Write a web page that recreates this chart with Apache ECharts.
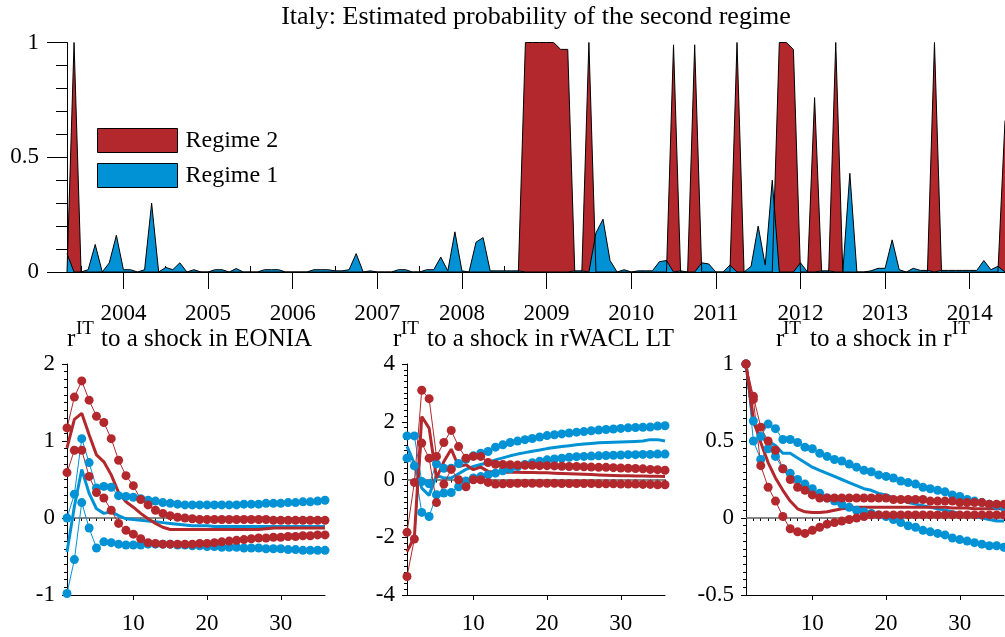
<!DOCTYPE html>
<html><head><meta charset="utf-8">
<script src="https://cdn.jsdelivr.net/npm/echarts@6/dist/echarts.min.js"></script>
<style>html,body{margin:0;padding:0;background:#fff}#c{width:1005px;height:637px}</style>
</head><body><div id="c"></div>
<script>
// ---------- Top panel data (monthly, first observation May 2003) ----------
const startYear = 2003, startMonth = 5;
const regime2 = [
  0,1,0,0,0,0,0,0,0,0,
  0,0,0,0,0,0,0,0,0,0,
  0,0,0,0,0,0,0,0,0,0,
  0,0,0,0,0,0,0,0,0,0,
  0,0,0,0,0,0,0,0,0,0,
  0,0,0,0,0,0,0,0,0,0,
  0,0,0,0,0,1,1,1,1,1,
  0.97,0.97,0,0,1,0,0,0,0,0,
  0,0,0,0,0,0,0.99,0,0,0.99,
  0,0,0,0,0,1,0,0,0,0,
  0,1,1,0.97,0,0,0.76,0,0,1,
  0,0,0,0,0,0,0,0,0,0,
  0,0,0,1,0,0,0,0,0,0,
  0,0,0,0.66
];
const regime1 = [
  0.08,0,0,0.01,0.12,0,0.04,0.16,0.01,0.01,
  0,0.01,0.30,0,0.02,0.01,0.04,0,0.01,0,
  0,0.01,0.01,0,0.015,0,0,0,0.01,0.01,
  0.01,0,0,0,0,0.01,0.01,0.01,0.005,0.005,
  0.01,0.08,0,0.005,0,0,0,0.01,0.01,0,
  0,0.01,0.01,0.065,0.005,0.175,0.005,0,0.13,0.15,
  0.005,0.005,0.005,0.005,0.005,0,0,0,0,0,
  0,0,0.005,0.005,0,0.17,0.23,0.05,0,0.01,
  0,0.005,0.005,0.005,0.045,0.05,0,0.005,0,0,
  0.04,0.035,0,0,0.03,0,0,0.025,0.2,0.03,
  0.40,0,0,0,0.04,0,0,0.005,0.005,0,
  0,0.43,0,0,0.005,0.016,0.016,0.14,0.01,0,
  0.016,0.007,0.007,0,0.007,0.007,0.007,0.007,0.007,0.007,
  0.05,0.01,0.025,0
];
const yearTicks = [2004,2005,2006,2007,2008,2009,2010,2011,2012,2013,2014];
const halfYearTicks = [2003.5,2004.5,2005.5,2006.5,2007.5,2008.5,2009.5,2010.5,2011.5,2012.5,2013.5];

// ---------- Impulse responses (horizons 1..36) ----------
const horizons = [1,2,3,4,5,6,7,8,9,10,11,12,13,14,15,16,17,18,19,20,21,22,23,24,25,26,27,28,29,30,31,32,33,34,35,36];

// Panel 1: shock in EONIA
const p1_r2_up = [1.17,1.57,1.78,1.53,1.32,1.24,1.03,0.75,0.55,0.42,0.24,0.17,0.10,0.06,0.03,0.01,0.0,-0.01,-0.02,-0.02,-0.02,-0.02,-0.02,-0.02,-0.02,-0.02,-0.02,-0.02,-0.03,-0.03,-0.03,-0.03,-0.03,-0.03,-0.03,-0.03];
const p1_r2_lo = [0.59,0.88,0.88,0.54,0.33,0.26,0.10,-0.07,-0.16,-0.21,-0.27,-0.32,-0.33,-0.34,-0.34,-0.34,-0.34,-0.34,-0.33,-0.33,-0.32,-0.31,-0.30,-0.29,-0.28,-0.27,-0.26,-0.26,-0.25,-0.25,-0.24,-0.24,-0.23,-0.23,-0.22,-0.22];
const p1_r2_md = [0.91,1.28,1.36,1.08,0.82,0.73,0.56,0.33,0.21,0.14,0.06,-0.01,-0.07,-0.12,-0.15,-0.15,-0.15,-0.15,-0.15,-0.15,-0.15,-0.15,-0.15,-0.15,-0.15,-0.15,-0.15,-0.14,-0.13,-0.13,-0.13,-0.13,-0.13,-0.13,-0.13,-0.13];
const p1_r1_up = [0.0,0.31,1.03,0.72,0.39,0.41,0.40,0.29,0.28,0.27,0.25,0.23,0.22,0.20,0.19,0.18,0.17,0.17,0.17,0.17,0.17,0.17,0.17,0.17,0.18,0.18,0.18,0.19,0.19,0.19,0.20,0.20,0.21,0.21,0.22,0.23];
const p1_r1_lo = [-0.98,-0.54,0.20,-0.13,-0.39,-0.31,-0.32,-0.34,-0.35,-0.35,-0.35,-0.34,-0.34,-0.34,-0.34,-0.35,-0.35,-0.36,-0.36,-0.37,-0.37,-0.38,-0.38,-0.38,-0.39,-0.39,-0.39,-0.40,-0.40,-0.40,-0.41,-0.41,-0.42,-0.42,-0.42,-0.42];
const p1_r1_md = [-0.44,0.15,0.63,0.32,0.12,0.06,0.08,0.03,-0.01,-0.02,-0.03,-0.04,-0.05,-0.06,-0.07,-0.08,-0.09,-0.10,-0.10,-0.10,-0.11,-0.11,-0.11,-0.11,-0.11,-0.11,-0.11,-0.11,-0.11,-0.11,-0.11,-0.11,-0.11,-0.11,-0.11,-0.11];

// Panel 2: shock in rWACL LT
const p2_r2_up = [-1.83,-0.10,3.09,2.80,0.80,1.28,1.70,1.14,0.74,0.80,0.80,0.59,0.53,0.52,0.51,0.50,0.49,0.49,0.48,0.48,0.47,0.46,0.45,0.45,0.44,0.43,0.42,0.42,0.41,0.40,0.39,0.38,0.37,0.35,0.34,0.32];
const p2_r2_lo = [-3.36,-2.06,1.26,0.74,-0.80,-0.16,0.35,-0.01,-0.25,-0.01,-0.01,-0.10,-0.16,-0.15,-0.14,-0.13,-0.13,-0.13,-0.13,-0.13,-0.13,-0.14,-0.14,-0.14,-0.14,-0.14,-0.15,-0.15,-0.15,-0.16,-0.16,-0.16,-0.17,-0.17,-0.18,-0.18];
const p2_r2_md = [-2.5,-2.0,2.18,1.78,0.05,0.62,1.05,0.45,0.51,0.34,0.43,0.28,0.25,0.25,0.25,0.25,0.24,0.24,0.23,0.23,0.22,0.21,0.20,0.19,0.18,0.17,0.16,0.15,0.14,0.13,0.13,0.12,0.12,0.11,0.11,0.10];
const p2_r1_up = [1.51,1.51,-0.07,-0.15,0.54,0.39,0.39,0.55,0.70,0.82,0.91,0.97,1.12,1.20,1.28,1.33,1.38,1.42,1.47,1.52,1.55,1.58,1.61,1.64,1.66,1.69,1.71,1.73,1.75,1.77,1.79,1.80,1.81,1.82,1.85,1.86];
const p2_r1_lo = [0.74,0.47,-1.14,-1.28,-0.53,-0.47,-0.45,-0.25,-0.05,0.05,0.10,0.16,0.22,0.30,0.37,0.45,0.52,0.58,0.63,0.68,0.71,0.74,0.77,0.79,0.80,0.81,0.82,0.83,0.84,0.85,0.86,0.86,0.87,0.87,0.88,0.88];
const p2_r1_md = [1.15,0.55,-0.30,-0.55,0.15,0.05,0.05,0.20,0.35,0.45,0.52,0.58,0.68,0.75,0.82,0.88,0.93,0.98,1.02,1.07,1.11,1.14,1.17,1.20,1.23,1.25,1.27,1.28,1.29,1.30,1.31,1.32,1.33,1.38,1.38,1.33];

// Panel 3: shock in r^IT
const p3_r2_up = [1.0,0.79,0.59,0.50,0.44,0.32,0.25,0.20,0.18,0.15,0.13,0.13,0.13,0.13,0.13,0.13,0.13,0.13,0.13,0.13,0.12,0.12,0.12,0.12,0.12,0.11,0.11,0.11,0.11,0.10,0.10,0.10,0.10,0.09,0.09,0.09];
const p3_r2_lo = [1.0,0.77,0.34,0.20,0.11,0.01,-0.07,-0.09,-0.10,-0.08,-0.06,-0.04,-0.03,-0.02,-0.01,0.0,0.01,0.02,0.02,0.02,0.02,0.02,0.02,0.02,0.02,0.02,0.02,0.02,0.02,0.02,0.02,0.02,0.02,0.02,0.02,0.02];
const p3_r2_md = [1.0,0.64,0.49,0.36,0.26,0.18,0.11,0.06,0.04,0.035,0.035,0.04,0.05,0.06,0.065,0.07,0.07,0.07,0.07,0.07,0.07,0.07,0.07,0.07,0.07,0.07,0.07,0.07,0.065,0.065,0.065,0.06,0.06,0.06,0.06,0.06];
const p3_r1_up = [1.0,0.63,0.53,0.61,0.58,0.51,0.51,0.49,0.46,0.45,0.42,0.40,0.38,0.37,0.35,0.33,0.31,0.30,0.28,0.27,0.26,0.24,0.23,0.22,0.20,0.19,0.18,0.17,0.15,0.14,0.12,0.11,0.10,0.09,0.08,0.07];
const p3_r1_lo = [1.0,0.50,0.38,0.45,0.40,0.32,0.29,0.25,0.22,0.19,0.16,0.13,0.11,0.09,0.07,0.05,0.04,0.03,0.02,0.01,-0.01,-0.03,-0.05,-0.06,-0.08,-0.09,-0.10,-0.11,-0.13,-0.14,-0.15,-0.16,-0.17,-0.18,-0.18,-0.19];
const p3_r1_md = [1.0,0.62,0.52,0.50,0.47,0.42,0.42,0.39,0.36,0.33,0.31,0.29,0.27,0.25,0.23,0.21,0.19,0.18,0.16,0.15,0.13,0.12,0.10,0.09,0.08,0.07,0.06,0.05,0.04,0.03,0.02,0.01,0.0,-0.01,-0.02,-0.02];

const hTicks = [10,20,30];

// ---------- styling ----------
const RED = '#B2282C', BLUE = '#0092D5', FONT = 'Liberation Serif';
const X0 = startYear + (startMonth - 1) / 12;
const X1 = X0 + (regime2.length - 1) / 12;
const monthPos = regime2.map((_, k) => startYear + (startMonth - 1 + k) / 12);

const chart = echarts.init(document.getElementById('c'), null, {renderer: 'canvas'});

const grids = [
  {left: 67, top: 42.5, width: 938, height: 229.5},
  {left: 67, top: 364, width: 258, height: 231},
  {left: 407, top: 364, width: 258, height: 231},
  {left: 746, top: 364, width: 258, height: 231}
];
grids.forEach(g => { g.containLabel = false; g.outerBoundsMode = 'none'; });

const lab = {fontFamily: FONT, fontSize: 23, color: '#000'};
const blk = {color: '#000', width: 1};

const xAxes = [
  {gridIndex: 0, type: 'value', min: X0, max: X1,
   axisLine: {show: true, onZero: false, lineStyle: blk},
   axisTick: {show: true, customValues: yearTicks, length: 17, lineStyle: blk},
   axisLabel: Object.assign({show: true, customValues: yearTicks, margin: 30, formatter: v => String(Math.round(v))}, lab),
   splitLine: {show: false}},
  {gridIndex: 0, type: 'value', min: X0, max: X1,
   axisLine: {show: false},
   axisTick: {show: true, customValues: halfYearTicks, length: 6, lineStyle: blk},
   axisLabel: {show: false}, splitLine: {show: false}}
];
const yAxes = [
  {gridIndex: 0, type: 'value', min: 0, max: 1, interval: 0.5,
   axisLine: {show: true, lineStyle: blk},
   axisTick: {show: true, length: 20, lineStyle: blk},
   minorTick: {show: true, splitNumber: 5, length: 11, lineStyle: blk},
   axisLabel: Object.assign({margin: 28}, lab),
   splitLine: {show: false}}
];

const panelAxes = [
  {min: -1, max: 2, interval: 1},
  {min: -4, max: 4, interval: 2},
  {min: -0.5, max: 1, interval: 0.5}
];
panelAxes.forEach((a, i) => {
  const gi = i + 1;
  xAxes.push({gridIndex: gi, type: 'value', min: 1, max: 36,
    axisLine: {show: true, onZero: false, lineStyle: blk},
    axisTick: {show: true, customValues: hTicks, length: 5, lineStyle: blk},
    axisLabel: Object.assign({show: true, customValues: hTicks, margin: 17}, lab),
    splitLine: {show: false}});
  xAxes.push({gridIndex: gi, type: 'value', min: 1, max: 36, interval: 1,
    axisLine: {show: false},
    axisTick: {show: true, inside: true, length: 3, lineStyle: blk},
    axisLabel: {show: false}, splitLine: {show: false}});
  yAxes.push({gridIndex: gi, type: 'value', min: a.min, max: a.max, interval: a.interval,
    axisLine: {show: true, lineStyle: blk},
    axisTick: {show: true, length: 5, lineStyle: blk},
    minorTick: {show: true, splitNumber: 10, length: 3, lineStyle: blk},
    axisLabel: Object.assign({margin: 12}, lab),
    splitLine: {show: false}});
});

const series = [
  {name: 'Regime 2', type: 'line', xAxisIndex: 0, yAxisIndex: 0,
   data: regime2.map((v, k) => [monthPos[k], v]),
   symbol: 'none', clip: true, itemStyle: {color: RED},
   lineStyle: {color: '#000', width: 1}, areaStyle: {color: RED, opacity: 1, origin: 'start'}},
  {name: 'Regime 1', type: 'line', xAxisIndex: 0, yAxisIndex: 0,
   data: regime1.map((v, k) => [monthPos[k], v]),
   symbol: 'none', clip: true, itemStyle: {color: BLUE},
   lineStyle: {color: '#000', width: 1}, areaStyle: {color: BLUE, opacity: 1, origin: 'start'}}
];

const panels = [
  [p1_r1_lo, p1_r1_up, p1_r1_md, p1_r2_lo, p1_r2_up, p1_r2_md],
  [p2_r1_lo, p2_r1_up, p2_r1_md, p2_r2_lo, p2_r2_up, p2_r2_md],
  [p3_r1_lo, p3_r1_up, p3_r1_md, p3_r2_lo, p3_r2_up, p3_r2_md]
];
panels.forEach((arrs, i) => {
  const xi = 2 + i * 2, yi = 1 + i;
  arrs.forEach((arr, j) => {
    const col = j < 3 ? BLUE : RED;
    const isMed = (j % 3) === 2;
    const s = {type: 'line', xAxisIndex: xi, yAxisIndex: yi, clip: true,
      data: arr.map((v, k) => [horizons[k], v]),
      itemStyle: {color: col},
      lineStyle: {color: col, width: isMed ? 3 : 1},
      symbol: isMed ? 'none' : 'circle', symbolSize: 9, showSymbol: !isMed};
    if (j === 0) {
      s.markLine = {silent: true, symbol: ['none', 'none'], label: {show: false},
        lineStyle: {color: '#5f5f5f', width: 1.5, type: 'solid'}, data: [{yAxis: 0}], z: 1};
    }
    series.push(s);
  });
});

function txt(x, y, text, size, align) {
  return {type: 'text', x: x, y: y, silent: true,
    style: {text: text, font: size + 'px "' + FONT + '"', fill: '#000',
      textAlign: align || 'left', textVerticalAlign: 'middle'}};
}
const graphic = [
  txt(536, 17, 'Italy: Estimated probability of the second regime', 26, 'center'),
  txt(67, 339.5, 'r', 25), txt(76, 329, 'IT', 19), txt(101, 339.5, 'to a shock in EONIA', 25),
  txt(393, 339.5, 'r', 25), txt(401, 329, 'IT', 19), txt(427, 339.5, 'to a shock in rWACL LT', 25),
  txt(776, 339.5, 'r', 25), txt(783, 329, 'IT', 19), txt(810, 339.5, 'to a shock in r', 25), txt(952, 329, 'IT', 19)
];

chart.setOption({
  animation: false,
  backgroundColor: '#fff',
  grid: grids,
  xAxis: xAxes,
  yAxis: yAxes,
  legend: {data: ['Regime 2', 'Regime 1'], left: 97, top: 128, orient: 'vertical', padding: 0,
    icon: 'rect', itemWidth: 80, itemHeight: 24, itemGap: 10,
    itemStyle: {borderColor: '#000', borderWidth: 1},
    textStyle: {fontFamily: FONT, fontSize: 24, color: '#000', padding: [0, 0, 0, 3]}},
  graphic: graphic,
  series: series
});
</script>
</body></html>
